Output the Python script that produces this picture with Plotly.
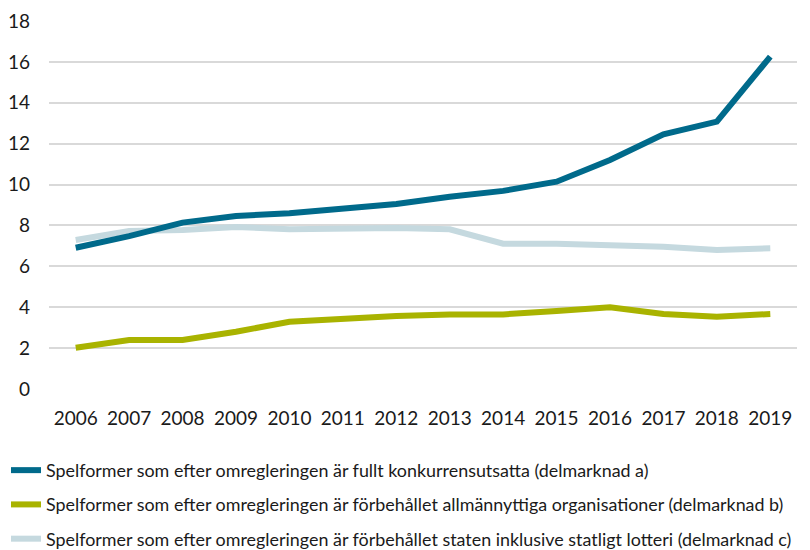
import plotly.graph_objects as go

years = list(range(2006, 2020))

delmarknad_a = [6.91, 7.48, 8.14, 8.46, 8.60, 8.80, 9.05, 9.40, 9.69, 10.14, 11.20, 12.46, 13.08, 16.26]
delmarknad_b = [2.02, 2.40, 2.40, 2.80, 3.29, 3.46, 3.57, 3.65, 3.65, 3.82, 4.00, 3.67, 3.54, 3.67]
delmarknad_c = [7.29, 7.73, 7.78, 7.93, 7.81, 7.86, 7.88, 7.81, 7.11, 7.11, 7.06, 6.96, 6.80, 6.88]

names = [
    "Spelformer som efter omregleringen är fullt konkurrensutsatta (delmarknad a)",
    "Spelformer som efter omregleringen är förbehållet allmännyttiga organisationer (delmarknad b)",
    "Spelformer som efter omregleringen är förbehållet staten inklusive statligt lotteri (delmarknad c)",
]
colors = ["#006A8B", "#A9B300", "#C5D9DF"]
series = [delmarknad_a, delmarknad_b, delmarknad_c]

fig = go.Figure()
# c first so a and b are drawn on top of it
for i in [2, 1, 0]:
    fig.add_trace(go.Scatter(
        x=years, y=series[i], mode="lines", name=names[i],
        line=dict(color=colors[i], width=6),
        legendgroup=str(i), legendrank=i + 1,
    ))

# page body has an 8px margin, so the figure is 8px smaller than the window
fig.update_layout(
    width=802, height=542,
    margin=dict(l=41, r=13, t=13, b=161, autoexpand=False),
    paper_bgcolor="white", plot_bgcolor="white",
    font=dict(family="Lato", size=19, color="#1a1a1a"),
    xaxis=dict(range=[2005.5, 2019.5], tickmode="array", tickvals=years,
               showgrid=False, zeroline=False, showline=False, ticks="",
               ticklabelstandoff=16),
    yaxis=dict(range=[0, 18], dtick=2, showgrid=True, gridcolor="#D9D9D9",
               gridwidth=1.5, zeroline=False, ticks="", ticklabelstandoff=18),
    legend=dict(orientation="v", x=-43 / 748, xanchor="left",
                y=1 - 444 / 542, yref="container", yanchor="top",
                font=dict(family="Lato", size=17.9, color="#1a1a1a"),
                tracegroupgap=8, itemwidth=30),
)

fig.write_html("out.html")
